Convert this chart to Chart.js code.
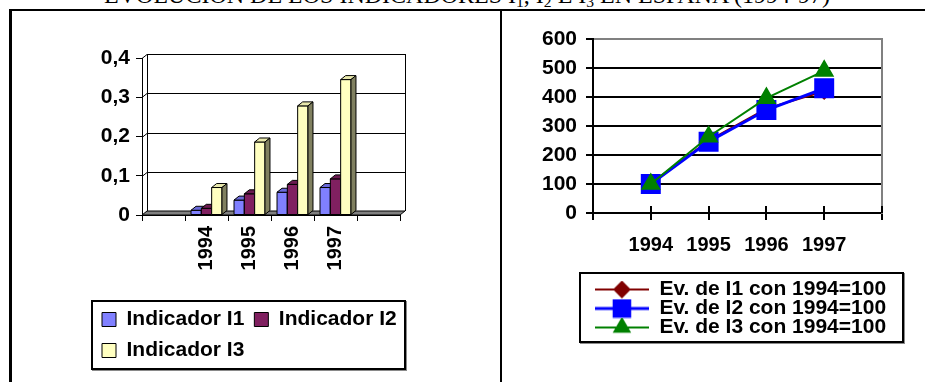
<!DOCTYPE html>
<html>
<head>
<meta charset="utf-8">
<script src="https://cdn.jsdelivr.net/npm/chart.js@4.4.1/dist/chart.umd.min.js"></script>
<style>
  html, body { margin: 0; padding: 0; background: #fff; }
  body { width: 925px; height: 382px; overflow: hidden; position: relative; }
  #title {
    position: absolute; left: 0; width: 934px; top: -17px;
    text-align: center; white-space: nowrap;
    font: 24px/24px "Liberation Serif", "Times New Roman", serif; color: #000;
  }
  #title sub { font-size: 0.65em; vertical-align: -0.25em; line-height: 0; }
  .rule { position: absolute; background: #000; }
  canvas { position: absolute; }
</style>
</head>
<body>
<div id="title">EVOLUCIÓN DE LOS INDICADORES I<sub>1</sub>, I<sub>2</sub> E I<sub>3</sub> EN ESPAÑA (1994-97)</div>
<div class="rule" style="left:9px; top:9px; width:916px; height:2px"></div>
<div class="rule" style="left:9px; top:9px; width:3px; height:373px"></div>
<div class="rule" style="left:500px; top:9px; width:2px; height:373px"></div>
<canvas id="barChart" width="420" height="372" style="left:80px; top:10px"></canvas>
<canvas id="lineChart" width="460" height="372" style="left:503px; top:10px"></canvas>

<script>
// ---- data ----
const years = ['1994', '1995', '1996', '1997'];
const indicador1 = [0.012, 0.038, 0.058, 0.070];
const indicador2 = [0.017, 0.054, 0.078, 0.092];
const indicador3 = [0.070, 0.186, 0.278, 0.345];
const evolucion1 = [100, 250, 360, 420];
const evolucion2 = [100, 246, 355, 430];
const evolucion3 = [100, 263, 396, 490];
const barTickLabels = ['0', '0,1', '0,2', '0,3', '0,4'];
const lineTickLabels = ['0', '100', '200', '300', '400', '500', '600'];

// one empty slot on each side of the years
const slots = ['', ...years, ''];
const padded = arr => [null, ...arr, null];

Chart.defaults.font.family = '"Liberation Sans", Arial, Helvetica, sans-serif';
Chart.defaults.font.weight = 'bold';
Chart.defaults.color = '#000';

// depth of the 3-D look
const DX = 5, DY = 4;

function poly(ctx, pts, fill, stroke) {
  ctx.beginPath();
  ctx.moveTo(pts[0][0], pts[0][1]);
  for (let i = 1; i < pts.length; i++) ctx.lineTo(pts[i][0], pts[i][1]);
  ctx.closePath();
  if (fill) { ctx.fillStyle = fill; ctx.fill(); }
  if (stroke) { ctx.strokeStyle = stroke; ctx.lineWidth = 1; ctx.stroke(); }
}
function seg(ctx, x1, y1, x2, y2) {
  ctx.beginPath(); ctx.moveTo(x1, y1); ctx.lineTo(x2, y2); ctx.stroke();
}

// walls, floor and extruded bars
const bars3d = {
  id: 'bars3d',
  beforeDatasetsDraw(chart) {
    const { ctx, chartArea: a, scales: { y } } = chart;
    const y0 = y.getPixelForValue(0);
    ctx.save();
    ctx.strokeStyle = '#000';
    ctx.lineWidth = 1;
    // back wall gridlines (with the short run across the side wall)
    y.ticks.forEach(t => {
      if (t.value === 0) return;
      const py = Math.round(y.getPixelForValue(t.value)) + 0.5;
      seg(ctx, a.left, py, a.left + DX, py - DY);
      seg(ctx, a.left + DX, py - DY, a.right + DX, py - DY);
    });
    // back wall edges
    seg(ctx, a.left + DX + 0.5, a.top - DY, a.left + DX + 0.5, y0 - DY);
    seg(ctx, a.right + DX + 0.5, a.top - DY, a.right + DX + 0.5, y0 - DY);
    // floor
    poly(ctx, [[a.left, y0], [a.right, y0], [a.right + DX, y0 - DY], [a.left + DX, y0 - DY]], '#808080', '#000');
    ctx.restore();
  },
  afterDatasetsDraw(chart) {
    const { ctx } = chart;
    const sets = chart.data.datasets;
    ctx.save();
    for (let i = 0; i < chart.data.labels.length; i++) {
      for (let d = 0; d < sets.length; d++) {
        if (sets[d].data[i] == null) continue;
        const el = chart.getDatasetMeta(d).data[i];
        const { x, y, base, width } = el.getProps(['x', 'y', 'base', 'width'], true);
        const l = x - width / 2, r = x + width / 2;
        poly(ctx, [[l, y], [r, y], [r, base], [l, base]], sets[d].backgroundColor, '#000');
        poly(ctx, [[l, y], [r, y], [r + DX, y - DY], [l + DX, y - DY]], sets[d].topColor, '#000');
        poly(ctx, [[r, y], [r + DX, y - DY], [r + DX, base - DY], [r, base]], sets[d].sideColor, '#000');
      }
    }
    ctx.restore();
  }
};

// framed legend box with a soft grey edge
const legendFrame = {
  id: 'legendFrame',
  afterDraw(chart, args, opts) {
    const boxes = chart.legend && chart.legend.legendHitBoxes;
    if (!boxes || !boxes.length) return;
    const l = Math.min(...boxes.map(b => b.left)) - opts.l;
    const r = Math.max(...boxes.map(b => b.left + b.width)) + opts.r;
    const t = Math.min(...boxes.map(b => b.top)) - opts.t;
    const b = Math.max(...boxes.map(b => b.top + b.height)) + opts.b;
    const { ctx } = chart;
    ctx.save();
    ctx.strokeStyle = '#8a8a8a';
    ctx.lineWidth = 1;
    ctx.strokeRect(Math.round(l) + 0.5, Math.round(t) + 0.5, Math.round(r - l) + 1, Math.round(b - t) + 1);
    ctx.strokeStyle = '#000';
    ctx.lineWidth = 2;
    ctx.strokeRect(Math.round(l), Math.round(t), Math.round(r - l), Math.round(b - t));
    ctx.restore();
  }
};

// ---- left: indicator values as 3-D columns ----
new Chart(document.getElementById('barChart'), {
  type: 'bar',
  data: {
    labels: slots,
    datasets: [
      { label: 'Indicador I1', data: padded(indicador1), backgroundColor: '#8080FF', topColor: '#6A6AD8', sideColor: '#40408A', borderColor: '#000', borderWidth: 1 },
      { label: 'Indicador I2', data: padded(indicador2), backgroundColor: '#802060', topColor: '#6A1A50', sideColor: '#46102F', borderColor: '#000', borderWidth: 1 },
      { label: 'Indicador I3', data: padded(indicador3), backgroundColor: '#FFFFC0', topColor: '#E8E8AC', sideColor: '#808060', borderColor: '#000', borderWidth: 1 }
    ]
  },
  options: {
    responsive: false,
    animation: false,
    devicePixelRatio: 1,
    events: [],
    layout: { padding: { left: 12, right: 10, top: 48, bottom: 11 } },
    datasets: { bar: { categoryPercentage: 0.72, barPercentage: 1 } },
    scales: {
      x: {
        grid: { display: true, drawOnChartArea: false, drawTicks: true, tickLength: 6, color: '#000', lineWidth: 1, offset: true },
        border: { display: true, color: '#000', width: 1 },
        ticks: { minRotation: 90, maxRotation: 90, autoSkip: false, padding: 5, font: { size: 20, weight: 'bold' } },
        afterFit(s) { s.height = 84; }
      },
      y: {
        min: 0, max: 0.4,
        ticks: { stepSize: 0.1, padding: 6, font: { size: 21, weight: 'bold' },
                 callback: (v, i) => barTickLabels[i] },
        grid: { drawOnChartArea: false, tickLength: 6, color: '#000', lineWidth: 1 },
        border: { display: true, color: '#000', width: 1 },
        afterFit(s) { s.width = 50; }
      },
      side: {
        position: 'right', display: true,
        grid: { display: false }, ticks: { display: false }, border: { display: false },
        afterFit(s) { s.width = 90; }
      }
    },
    plugins: {
      legend: {
        position: 'bottom', align: 'start',
        labels: { boxWidth: 14, boxHeight: 14, padding: 10, font: { size: 21, weight: 'bold' }, color: '#000' }
      },
      tooltip: { enabled: false },
      legendFrame: { l: 10, r: 8, t: 8, b: 8 }
    }
  },
  plugins: [bars3d, legendFrame]
});

// ---- right: evolution indices (1994 = 100) ----
const markerSize = { rectRot: 7.5, rect: 11, triangle: 8.7 };
function legendSample(ds) {
  const c = document.createElement('canvas');
  c.width = 54; c.height = 20;
  const g = c.getContext('2d');
  g.strokeStyle = ds.borderColor;
  g.lineWidth = ds.borderWidth;
  g.beginPath(); g.moveTo(0, 10); g.lineTo(54, 10); g.stroke();
  g.fillStyle = ds.backgroundColor;
  g.strokeStyle = ds.backgroundColor;
  Chart.helpers.drawPoint(g, { pointStyle: ds.pointStyle, radius: markerSize[ds.pointStyle], borderWidth: 1, rotation: 0 }, 27, 10);
  g.fill();
  return c;
}

// crossing tick marks on the category axis
const crossTicks = {
  id: 'crossTicks',
  afterDraw(chart) {
    const { ctx, chartArea: a, scales: { x } } = chart;
    ctx.save();
    ctx.strokeStyle = '#000';
    ctx.lineWidth = 2;
    x.ticks.forEach((t, i) => {
      const px = Math.round(x.getPixelForTick(i));
      seg(ctx, px, a.bottom - 7, px, a.bottom);
    });
    ctx.restore();
  }
};

new Chart(document.getElementById('lineChart'), {
  type: 'line',
  data: {
    labels: slots,
    datasets: [
      { label: 'Ev. de I1 con 1994=100', data: padded(evolucion1), borderColor: '#800000', backgroundColor: '#800000',
        borderWidth: 2, pointStyle: 'rectRot', pointRadius: 7.5, pointBorderColor: '#800000', order: 3 },
      { label: 'Ev. de I2 con 1994=100', data: padded(evolucion2), borderColor: '#0000FF', backgroundColor: '#0000FF',
        borderWidth: 3, pointStyle: 'rect', pointRadius: 12, pointBorderColor: '#0000FF', order: 2 },
      { label: 'Ev. de I3 con 1994=100', data: padded(evolucion3), borderColor: '#008000', backgroundColor: '#008000',
        borderWidth: 2, pointStyle: 'triangle', pointRadius: 9.6, pointBorderColor: '#008000', order: 1 }
    ]
  },
  options: {
    responsive: false,
    animation: false,
    devicePixelRatio: 1,
    events: [],
    layout: { padding: { left: 30, right: 15, top: 29, bottom: 34 } },
    scales: {
      x: {
        offset: false,
        grid: { display: true, drawOnChartArea: false, tickLength: 7, color: '#000', lineWidth: 2 },
        border: { display: true, color: '#000', width: 2 },
        ticks: { autoSkip: false, maxRotation: 0, padding: 13, font: { size: 20, weight: 'bold' } },
        afterFit(s) { s.height = 68; }
      },
      y: {
        min: 0, max: 600,
        ticks: { stepSize: 100, padding: 9, font: { size: 21, weight: 'bold' },
                 callback: (v, i) => lineTickLabels[i] },
        grid: { color: c => (c.tick && c.tick.value === 600 ? '#808080' : '#000'), tickColor: '#000', lineWidth: 2, tickLength: 7 },
        border: { display: true, color: '#000', width: 2 },
        afterFit(s) { s.width = 60; }
      },
      side: {
        position: 'right', display: true,
        grid: { display: false }, ticks: { display: false },
        border: { display: true, color: '#808080', width: 2 },
        afterFit(s) { s.width = 66; }
      }
    },
    plugins: {
      legend: {
        position: 'bottom', align: 'center',
        labels: {
          usePointStyle: true, pointStyleWidth: 54, padding: -2,
          font: { size: 21, weight: 'bold' }, color: '#000',
          sort: (a, b) => a.datasetIndex - b.datasetIndex,
          generateLabels(chart) {
            const items = Chart.defaults.plugins.legend.labels.generateLabels(chart);
            items.forEach(it => { it.pointStyle = legendSample(chart.data.datasets[it.datasetIndex]); });
            return items;
          }
        }
      },
      tooltip: { enabled: false },
      legendFrame: { l: 15, r: 17, t: 6, b: 4 }
    }
  },
  plugins: [crossTicks, legendFrame]
});
</script>
</body>
</html>
